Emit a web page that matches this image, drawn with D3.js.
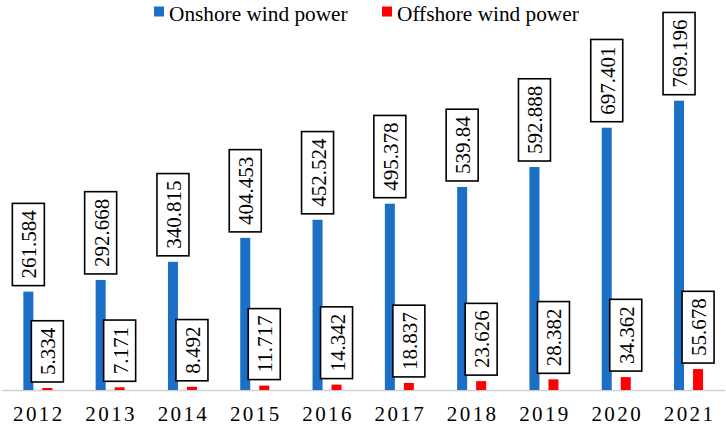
<!DOCTYPE html>
<html>
<head>
<meta charset="utf-8">
<script src="https://cdn.jsdelivr.net/npm/d3@7"></script>
<style>
  html, body { margin: 0; padding: 0; background: #fff; }
  svg { display: block; }
</style>
</head>
<body>
<svg id="chart" width="726" height="425" font-family="Liberation Serif, Times New Roman, DejaVu Serif, serif"></svg>
<script>
const years = ["2012","2013","2014","2015","2016","2017","2018","2019","2020","2021"];
const onshore = [261.584, 292.668, 340.815, 404.453, 452.524, 495.378, 539.84, 592.888, 697.401, 769.196];
const offshore = [5.334, 7.171, 8.492, 11.717, 14.342, 18.837, 23.626, 28.382, 34.362, 55.678];
const seriesNames = ["Onshore wind power", "Offshore wind power"];
const seriesColors = ["#1c6fc6", "#ff0000"];

const FONT = "'Liberation Serif', 'Times New Roman', 'DejaVu Serif', serif";
const svg = d3.select("#chart");
const baseY = 390;

const x = d3.scaleBand().domain(years).range([1.7, 724.7]).paddingInner(0).paddingOuter(0);
const y = d3.scaleLinear().domain([0, 800]).range([baseY, baseY - 800 * 0.3761]);

const barW = 10, offset = 9.5;
const series = [onshore, offshore];

// axis line
const xAxis = d3.axisBottom(x).tickSize(0).tickPadding(0).tickFormat("");
const gx = svg.append("g").attr("transform", `translate(0,${baseY})`).call(xAxis);
gx.select(".domain").attr("stroke", "#d0d0d0").attr("stroke-width", 1.5);

// year labels
svg.append("g").selectAll("text").data(years).join("text")
  .attr("x", d => x(d) + x.bandwidth() / 2 + 1)
  .attr("y", 420.5)
  .attr("text-anchor", "middle")
  .style("font-family", FONT)
  .attr("font-size", 21)
  .attr("letter-spacing", "2.4px")
  .attr("fill", "#000")
  .text(d => d);

series.forEach((vals, si) => {
  const cx = d => x(years[d]) + x.bandwidth() / 2 + (si === 0 ? -offset : offset);
  const g = svg.append("g");
  g.selectAll("rect").data(vals.map((v, i) => i)).join("rect")
    .attr("x", i => cx(i) - barW / 2)
    .attr("y", i => y(vals[i]))
    .attr("width", barW)
    .attr("height", i => baseY - y(vals[i]))
    .attr("fill", seriesColors[si]);

  // labels
  vals.forEach((v, i) => {
    const lg = svg.append("g");
    const t = lg.append("text")
      .style("font-family", FONT)
      .attr("font-size", 21)
      .attr("text-anchor", "middle")
      .attr("dominant-baseline", "central")
      .attr("fill", "#000")
      .text(String(v));
    const len = t.node().getComputedTextLength();
    const boxH = len + 14, boxW = 32;
    const bottom = y(v) - 6;
    const cxv = cx(i);
    lg.insert("rect", "text")
      .attr("x", cxv - boxW / 2)
      .attr("y", bottom - boxH)
      .attr("width", boxW)
      .attr("height", boxH)
      .attr("fill", "#fff")
      .attr("stroke", "#000")
      .attr("stroke-width", 1.6);
    t.attr("transform", `translate(${cxv + 1},${bottom - boxH / 2}) rotate(-90)`);
  });
});

// legend
const legend = svg.append("g");
const legendItems = [{x: 154, tx: 169}, {x: 382, tx: 397}];
seriesNames.forEach((name, i) => {
  legend.append("rect").attr("x", legendItems[i].x).attr("y", 6.5)
    .attr("width", 10).attr("height", 10).attr("fill", seriesColors[i]);
  legend.append("text").attr("x", legendItems[i].tx).attr("y", 21)
    .style("font-family", FONT)
    .attr("font-size", 21.3).attr("fill", "#000").text(name);
});
</script>
</body>
</html>
